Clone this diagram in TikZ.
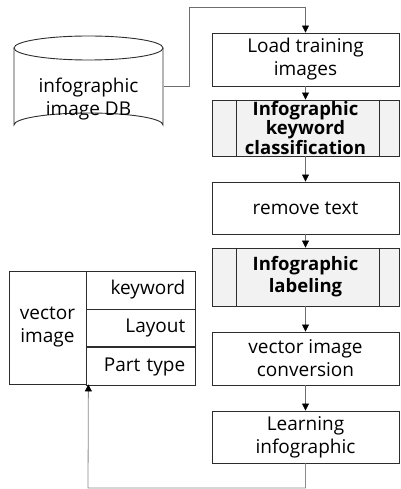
\documentclass[tikz,border=0pt]{standalone}
\usepackage{fontspec}
\setmainfont{Open Sans}
\usetikzlibrary{arrows.meta, positioning}
\definecolor{boxline}{RGB}{45, 45, 45}
\definecolor{flowline}{RGB}{110, 110, 110}
\definecolor{keyfill}{RGB}{242, 242, 242}

\tikzset{
    procbox/.style={draw=boxline, line width=0.9pt, minimum width=187pt, align=center,
        font=\fontsize{19}{23}\selectfont, inner sep=0pt},
    keybox/.style={procbox, fill=keyfill, font=\fontsize{18.5}{16.5}\selectfont\bfseries},
    cellbox/.style={draw=boxline, line width=0.8pt, inner sep=0pt, font=\fontsize{19}{23}\selectfont},
    flow/.style={draw=flowline, line width=0.8pt, -{Triangle[length=7pt,width=7pt,color=black]}},
    feedback/.style={draw=flowline!80, line width=0.8pt, -{Triangle[length=7pt,width=7pt,color=black]}}
}

\begin{document}
\begin{tikzpicture}[x=1pt, y=-1pt]
    \useasboundingbox (0,0) rectangle (400,489);

    % database cylinder
    \draw[boxline, line width=0.9pt] (14,48) -- (14,125)
        arc[start angle=180, end angle=360, x radius=74.5, y radius=12] -- (163,48);
    \draw[boxline, line width=0.9pt] (88.5,48) ellipse[x radius=74.5, y radius=12];
    \node[align=center, font=\fontsize{19}{23}\selectfont] (db) at (88.5,99) {infographic\\image DB};
    \coordinate (dbout) at (163.5,86);

    % process chain
    \node[procbox, minimum height=53pt] (load) at (305.5,59.5) {Load training\\images};
    \node[keybox, minimum height=56pt] (keycls) at (305.5,128) {Infographic\\keyword\\classification};
    \node[procbox, minimum height=52pt] (rmtext) at (305.5,208) {remove text};
    \node[keybox, minimum height=58pt, font=\fontsize{18.5}{22}\selectfont\bfseries] (label) at (305.5,277) {Infographic\\labeling};
    \node[procbox, minimum height=53pt] (vconv) at (305.5,358.5) {vector image\\conversion};
    \node[procbox, minimum height=52pt] (learn) at (305.5,437) {Learning\\infographic};

    % side bars of the keyed boxes
    \foreach \k in {keycls, label} {
        \draw[boxline, line width=0.9pt] ([xshift=25pt]\k.north west) -- ([xshift=25pt]\k.south west);
        \draw[boxline, line width=0.9pt] ([xshift=-20pt]\k.north east) -- ([xshift=-20pt]\k.south east);
    }

    % vector image table
    \node[cellbox, minimum width=77pt, minimum height=113pt, align=center] (vimg) at (47.5,327.5) {vector\\image};
    \node[cellbox, minimum width=109pt, minimum height=38pt, text width=88pt, align=right, anchor=north west] (kw) at (vimg.north east) {keyword};
    \node[cellbox, minimum width=109pt, minimum height=37pt, text width=88pt, align=right, anchor=north west] (lay) at (kw.south west) {Layout};
    \node[cellbox, minimum width=109pt, minimum height=38pt, text width=88pt, align=right, anchor=north west] (ptype) at (lay.south west) {Part type};

    % connectors
    \draw[flow] (dbout) -| (189,7) -| (load.north);
    \draw[flow] (load) -- (keycls);
    \draw[flow] (keycls) -- (rmtext);
    \draw[flow] (rmtext) -- (label);
    \draw[flow] (label) -- (vconv);
    \draw[flow] (vconv) -- (learn);
    \draw[feedback] (learn.south) |- (88,488) -- ([xshift=2pt]vimg.south east);
\end{tikzpicture}
\end{document}
